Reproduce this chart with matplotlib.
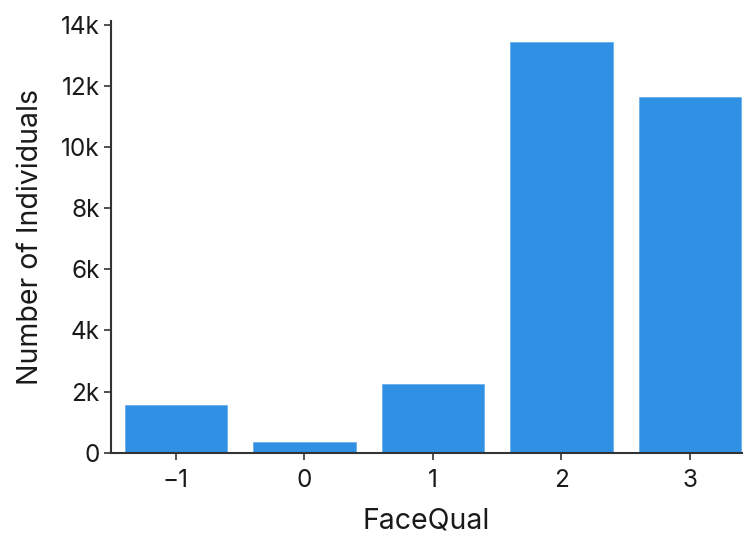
import matplotlib
matplotlib.use("Agg")
import matplotlib.pyplot as plt
from matplotlib.ticker import FuncFormatter

categories = [-1, 0, 1, 2, 3]
counts = [1560, 340, 2260, 13420, 11650]
y_ticks = [0, 2000, 4000, 6000, 8000, 10000, 12000, 14000]

plt.rcParams['font.family'] = ['Inter', 'DejaVu Sans']

fig = plt.figure(figsize=(7.44, 5.36), dpi=100)
ax = fig.add_axes([110.7/744, 1-452.7/536, (742-110.7)/744, (452.7-20.7)/536])

ax.bar(categories, counts, width=0.8, color='#2f90e4', edgecolor='#6aaeea', linewidth=0.6)

ax.set_xlim(-1.508, 3.405)
ax.set_ylim(0, 14130)
ax.set_xticks(categories)
ax.set_xticklabels(['\u22121', '0', '1', '2', '3'])
ax.set_yticks(y_ticks)
ax.yaxis.set_major_formatter(FuncFormatter(lambda v, p: '0' if v == 0 else f'{int(v/1000)}k'))

for s in ['top', 'right']:
    ax.spines[s].set_visible(False)
for s in ['left', 'bottom']:
    ax.spines[s].set_color('#333333')
    ax.spines[s].set_linewidth(1.5)
ax.tick_params(axis='both', length=5, width=1.2, color='#333333', labelsize=17.5, labelcolor='#1a1a1a')
ax.tick_params(axis='x', pad=7)
ax.tick_params(axis='y', pad=3)

ax.set_xlabel('FaceQual', fontsize=20.5, color='#1a1a1a', labelpad=11)
ax.set_ylabel('Number of Individuals', fontsize=20.5, color='#1a1a1a', labelpad=12)

fig.savefig('out.png', dpi=100)
